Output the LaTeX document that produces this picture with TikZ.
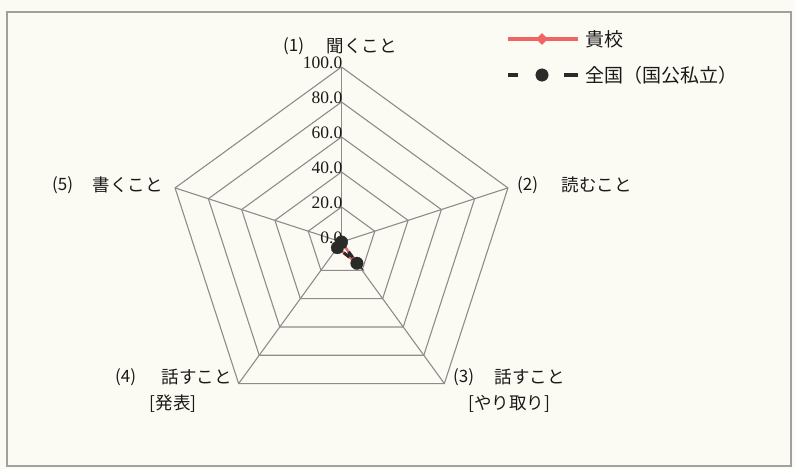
\documentclass[tikz,border=0pt]{standalone}
\usepackage{fontspec}
\setmainfont{Liberation Serif}
\newfontfamily\jp{Noto Sans CJK JP}
\usetikzlibrary{calc,shapes.geometric}
\definecolor{bg}{HTML}{FCFBF3}
\definecolor{gridc}{HTML}{8C8C8C}
\definecolor{framec}{HTML}{A0A0A0}
\definecolor{school}{HTML}{F06464}
\definecolor{natl}{HTML}{2A2A28}
\begin{document}
\begin{tikzpicture}[x=1pt,y=-1pt,
  gridline/.style={draw=gridc,line width=1.1pt,line join=miter},
  numlab/.style={anchor=east,inner sep=0pt,font=\fontsize{17.5}{17.5}\selectfont,text=black!90},
  axnum/.style={anchor=west,inner sep=0pt,font=\jp\fontsize{17}{17}\selectfont,text=black!90},
  axtxt/.style={anchor=east,inner sep=0pt,font=\jp\fontsize{17.5}{17.5}\selectfont,text=black!90},
  axsub/.style={inner sep=0pt,font=\jp\fontsize{17.5}{17.5}\selectfont,text=black!90},
  legtxt/.style={anchor=west,inner sep=0pt,font=\jp\fontsize{19}{19}\selectfont,text=black!90},
  schoolline/.style={draw=school,line width=2.5pt},
  natlline/.style={draw=natl,line width=3pt,dash pattern=on 7pt off 5pt},
  natldot/.style={circle,fill=natl,draw=natl,inner sep=0pt,minimum size=12.5pt},
  schooldia/.style={diamond,fill=school,inner sep=0pt,minimum size=12pt}]
\fill[bg] (0,0) rectangle (795,469);
\useasboundingbox (0,0) rectangle (795,469);
\draw[draw=framec,line width=1.3pt] (7,12) rectangle (791,466);

\begin{scope}[shift={(341.5,242)}]
  \coordinate (O) at (0,0);
  \foreach \k in {1,...,5}{
    \draw[gridline] (-90:35*\k) -- (-18:35*\k) -- (54:35*\k) -- (126:35*\k) -- (-162:35*\k) -- cycle;
  }
  \foreach \a/\n in {-90/1,-18/2,54/3,126/4,-162/5}{
    \coordinate (v\n) at (\a:175);
  }
  \foreach \n in {1,...,5}{ \draw[gridline] (O) -- (v\n); }
  \foreach \v/\t in {0/0.0,20/20.0,40/40.0,60/60.0,80/80.0,100/100.0}{
    \node[numlab] (t\v) at (1,-1.75*\v-4) {\t};
  }
  % data points
  \coordinate (p1) at (-90:0);
  \coordinate (p2) at (-18:0);
  \coordinate (p3) at (54:26.25);
  \coordinate (p4) at (126:7);
  \coordinate (p5) at (-162:0);
  \draw[schoolline] (p1) -- (p2) -- (p3) -- (p4) -- (p5) -- cycle;
  \draw[natlline] (p1) -- (p2) -- (p3) -- (p4) -- (p5) -- cycle;
  \node[natldot] (d1) at (p1) {};
  \node[natldot] (d3) at (p3) {};
  \node[natldot] (d4) at (p4) {};
\end{scope}

% axis labels
\node[axnum] (n1) at (283,46) {(1)};
\node[axtxt] (l1) at (397,46) {聞くこと};
\node[axnum] (n2) at (517,185) {(2)};
\node[axtxt] (l2) at (632,185) {読むこと};
\node[axnum] (n5) at (52,185) {(5)};
\node[axtxt] (l5) at (163,185) {書くこと};
\node[axnum] (n3) at (453,377) {(3)};
\node[axtxt] (l3) at (565,377) {話すこと};
\node[axsub] (s3) at (509,404) {[やり取り]};
\node[axnum] (n4) at (115,377) {(4)};
\node[axtxt] (l4) at (232,377) {話すこと};
\node[axsub] (s4) at (173,404) {[発表]};

% legend
\coordinate (la) at (508,39);
\coordinate (lb) at (578,39);
\draw[draw=school,line width=4pt] (la) -- (lb);
\node[schooldia] (lm1) at (542,39) {};
\node[legtxt] (lt1) at (585,39) {貴校};
\coordinate (ma) at (508,75);
\coordinate (mb) at (518,75);
\coordinate (mc) at (564,75);
\coordinate (md) at (578,75);
\draw[draw=natl,line width=4pt] (ma) -- (mb);
\draw[draw=natl,line width=4pt] (mc) -- (md);
\node[natldot] (lm2) at (542,75) {};
\node[legtxt] (lt2) at (585,75) {全国（国公私立）};
\end{tikzpicture}
\end{document}
